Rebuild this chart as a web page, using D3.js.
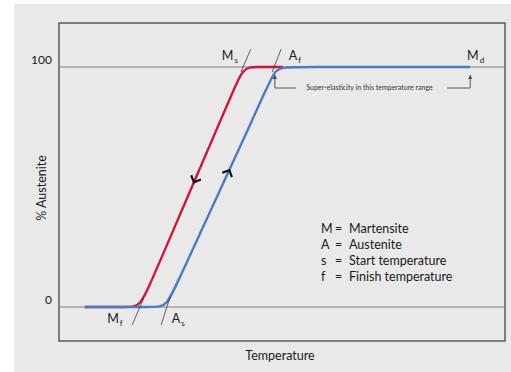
<!DOCTYPE html>
<html>
<head>
	<meta charset="utf-8">
	<script src="https://d3js.org/d3.v7.min.js"></script>
	<title>Austenite vs temperature</title>
	<style type="text/css">
		body {
			margin: 0;
			background: #fff;
		}
		text {
			font-family: Lato, "Open Sans", sans-serif;
			fill: #1a1a1a;
		}
	</style>
</head>
<body>
	<div id="chartContainer"></div>
	<script type="text/javascript">
		// temperature in arbitrary units (0..100 across the frame), austenite in %
		var coolingCurve = [[5.8, 0], [15.5, 0], [18.2, 0], [21.0, 12], [38.6, 88], [41.3, 100], [44.0, 100], [50.2, 100]];
		var heatingCurve = [[5.8, 0], [21.5, 0], [24.1, 0], [27.0, 12], [45.9, 88], [48.5, 100], [51.5, 100], [92.2, 100]];
		var yTicks = [0, 100];
		var startFinishMarks = [
			{name: "M", sub: "s", line: [[40.8, 97.9], [43.0, 107.5]], label: [36.5, 103]},
			{name: "A", sub: "f", line: [[47.8, 97.9], [49.8, 107.5]], label: [51.5, 103]},
			{name: "M", sub: "f", line: [[16.4, -7.5], [19.1, 4.2]], label: [10.8, -6.5]},
			{name: "A", sub: "s", line: [[22.9, -7.5], [24.9, 4.2]], label: [25.3, -6.5]}
		];
		var mdMark = {name: "M", sub: "d", label: [91.5, 103]};
		var rangeStart = 48.4, rangeEnd = 92.2;
		var legendKeys = ["M", "A", "s", "f"];
		var legendWords = ["Martensite", "Austenite", "Start temperature", "Finish temperature"];

		var width = 511, height = 372;
		var svg = d3.select("#chartContainer").append("svg")
			.attr("width", width).attr("height", height);

		svg.append("rect").attr("x", 14).attr("y", 4)
			.attr("width", width - 14).attr("height", height - 4)
			.attr("fill", "#e9e9e9");

		var x = d3.scaleLinear().domain([0, 100]).range([59, 505]);
		var y = d3.scaleLinear().domain([0, 100]).range([307, 67]);

		// frame
		svg.append("rect").attr("x", 59).attr("y", 23)
			.attr("width", 446).attr("height", 318)
			.attr("fill", "none").attr("stroke", "#5a5a5a").attr("stroke-width", 1.5);

		// 0 / 100 reference lines and labels
		yTicks.forEach(function (t) {
			svg.append("line")
				.attr("x1", x(0)).attr("x2", x(100))
				.attr("y1", y(t)).attr("y2", y(t))
				.attr("stroke", "#7a7a7a").attr("stroke-width", 1.2);
			svg.append("text")
				.attr("x", 52).attr("y", y(t) - 3)
				.attr("text-anchor", "end")
				.style("font-size", "12px")
				.text(t);
		});

		var line = d3.line().x(function (d) { return x(d[0]); }).y(function (d) { return y(d[1]); });
		var curveLine = d3.line().curve(d3.curveBasis)
			.x(function (d) { return x(d[0]); }).y(function (d) { return y(d[1]); });

		svg.append("path").datum(coolingCurve).attr("d", curveLine)
			.attr("fill", "none").attr("stroke", "#d1143c").attr("stroke-width", 2.4);
		svg.append("path").datum(heatingCurve).attr("d", curveLine)
			.attr("fill", "none").attr("stroke", "#4b7bc4").attr("stroke-width", 2.4);

		// tangent lines + labels
		function drawLabel(m) {
			var t = svg.append("text")
				.attr("x", x(m.label[0])).attr("y", y(m.label[1]))
				.style("font-size", "12.5px");
			t.append("tspan").text(m.name);
			t.append("tspan").attr("dx", 1).attr("dy", 3).style("font-size", "8px").text(m.sub);
		}
		startFinishMarks.forEach(function (m) {
			svg.append("path").datum(m.line).attr("d", line)
				.attr("stroke", "#3a3a3a").attr("stroke-width", 0.8);
			drawLabel(m);
		});
		drawLabel(mdMark);

		// direction chevrons
		function chevron(curve, p, up) {
			var a = curve[3], b = curve[4];
			var f = (p - a[1]) / (b[1] - a[1]);
			var px = x(a[0] + f * (b[0] - a[0])), py = y(p);
			var dx = x(b[0]) - x(a[0]), dy = y(b[1]) - y(a[1]);
			var len = Math.sqrt(dx * dx + dy * dy);
			dx /= len; dy /= len;
			if (!up) { dx = -dx; dy = -dy; }
			var arm = 7.5, ang = Math.PI * 0.25;
			var pts = [-ang, ang].map(function (s) {
				var c = Math.cos(Math.PI + s), sn = Math.sin(Math.PI + s);
				return [px + arm * (dx * c - dy * sn), py + arm * (dx * sn + dy * c)];
			});
			svg.append("path")
				.attr("d", "M" + pts[0] + "L" + px + "," + py + "L" + pts[1])
				.attr("fill", "none").attr("stroke", "#111").attr("stroke-width", 2.2);
		}
		chevron(coolingCurve, 52, false);
		chevron(heatingCurve, 57, true);

		// super-elasticity bracket
		var by = y(100) + 21, topY = y(100) + 8;
		var bracket = svg.append("g").attr("stroke", "#444").attr("stroke-width", 0.9).attr("fill", "none");
		bracket.append("path").attr("d", "M" + x(rangeStart) + "," + topY + "V" + by + "H" + (x(rangeStart) + 21));
		bracket.append("path").attr("d", "M" + (x(rangeEnd) - 23) + "," + by + "H" + x(rangeEnd) + "V" + topY);
		[rangeStart, rangeEnd].forEach(function (r) {
			svg.append("path")
				.attr("d", "M" + (x(r) - 2) + "," + (topY + 4) + "L" + x(r) + "," + topY + "L" + (x(r) + 2) + "," + (topY + 4) + "Z")
				.attr("fill", "#444");
		});
		svg.append("text")
			.attr("x", (x(rangeStart) + x(rangeEnd)) / 2 - 3).attr("y", by + 2.3)
			.attr("text-anchor", "middle")
			.style("font-size", "7px").style("fill", "#333")
			.text("Super-elasticity in this temperature range");

		// legend
		legendKeys.forEach(function (k, i) {
			var ly = 233 + i * 16;
			svg.append("text").attr("x", 321).attr("y", ly).style("font-size", "12.5px").text(k);
			svg.append("text").attr("x", 335).attr("y", ly).style("font-size", "12.5px").text("=");
			svg.append("text").attr("x", 349).attr("y", ly).style("font-size", "12.5px").text(legendWords[i]);
		});

		// axis titles
		svg.append("text").attr("x", 280).attr("y", 360)
			.attr("text-anchor", "middle").style("font-size", "12.5px").text("Temperature");
		svg.append("text")
			.attr("transform", "translate(46,188) rotate(-90)")
			.attr("text-anchor", "middle").style("font-size", "12.5px").text("% Austenite");
	</script>
</body>
</html>
